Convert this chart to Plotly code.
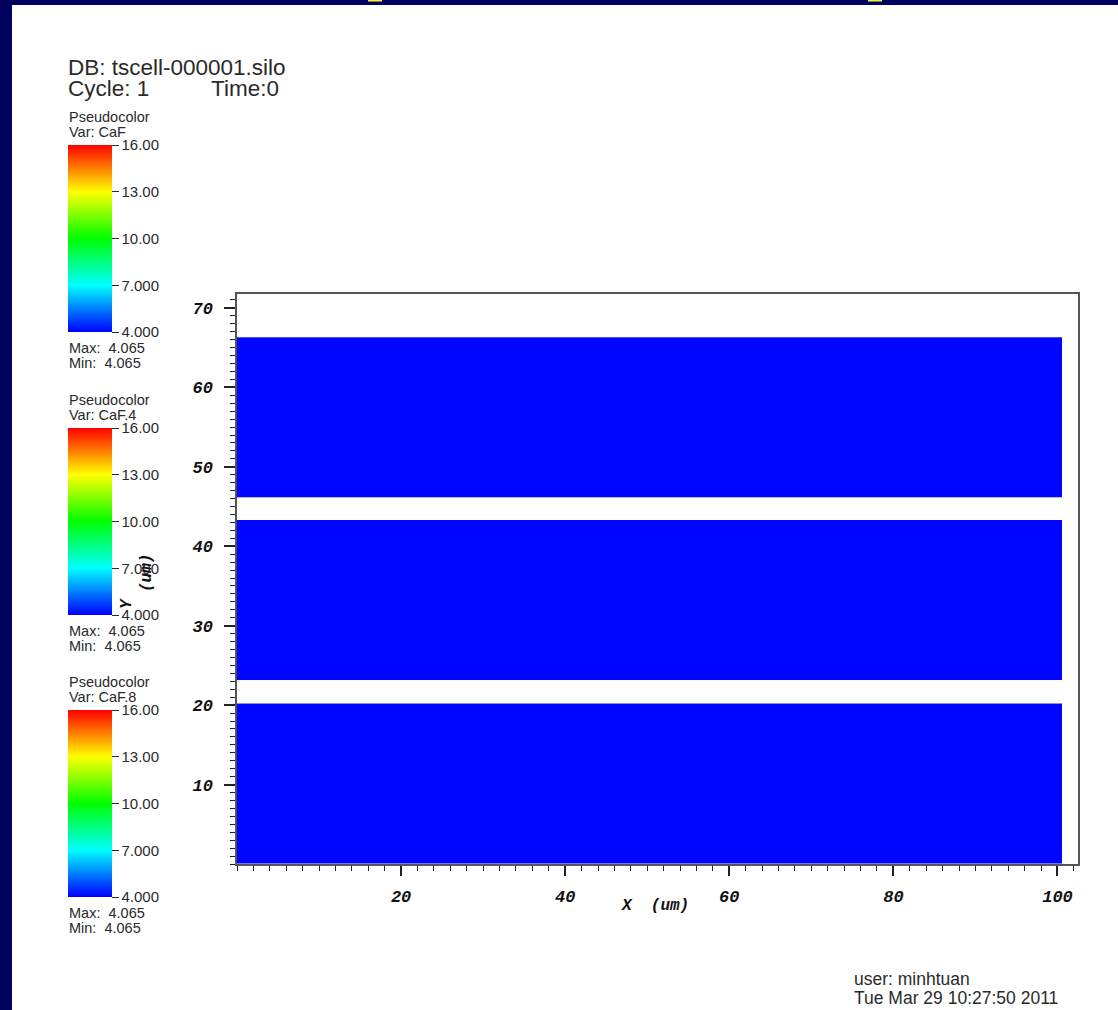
import plotly.graph_objects as go

# ---------------- data ----------------
variables = ["CaF", "CaF.4", "CaF.8"]
band_y_edges = [[46.2, 66.3], [23.1, 43.3], [0.0, 20.2]]
band_values = [4.065, 4.065, 4.065]
band_x_edges = [0.0, 100.5]
var_min = [4.065, 4.065, 4.065]
var_max = [4.065, 4.065, 4.065]
cbar_tickvals = [4, 7, 10, 13, 16]
cbar_ticktext = ["4.000", "7.000", "10.00", "13.00", "16.00"]
x_tickvals = [20, 40, 60, 80, 100]
x_ticktext = ["20", "40", "60", "80", "100"]
y_tickvals = [10, 20, 30, 40, 50, 60, 70]
y_ticktext = ["10", "20", "30", "40", "50", "60", "70"]
zmin, zmax = 4.0, 16.0

# ---------------- layout geometry ----------------
FW, FH = 1118, 1010
L, T, R, B = 237, 294, 1078, 864
W, H = R - L, B - T

def px(x):
    return (x - L) / W

def py(y):
    return 1 - (y - T) / H

NAVY = "#00005f"
TXT = "#2a2a2a"
SANS = "Liberation Sans"
MONO = "Liberation Mono"

colorscale = [[0.0, "rgb(0,0,255)"], [0.25, "rgb(0,255,255)"], [0.5, "rgb(0,255,0)"],
              [0.75, "rgb(255,255,0)"], [1.0, "rgb(255,0,0)"]]

fig = go.Figure()

group_offsets = [0, 283, 565]
bar_top0, bar_len = 145, 187

for i, var in enumerate(variables):
    off = group_offsets[i]
    fig.add_trace(go.Heatmap(
        x=band_x_edges, y=band_y_edges[i], z=[[band_values[i]]],
        zmin=zmin, zmax=zmax, colorscale=colorscale, name=var,
        hoverinfo="skip",
        colorbar=dict(
            xref="paper", yref="paper",
            x=px(68), xanchor="left", xpad=0,
            y=py(bar_top0 + off), yanchor="top", ypad=0,
            len=bar_len, lenmode="pixels",
            thickness=44, thicknessmode="pixels",
            outlinewidth=0,
            tickvals=cbar_tickvals, ticktext=cbar_ticktext,
            ticks="outside", ticklen=7, tickwidth=1, tickcolor=TXT,
            tickfont=dict(family=SANS, size=15, color=TXT),
        ),
    ))

annotations = []

def add_text(text, x, y, size, family=SANS, xanchor="left", color=TXT, angle=0, weight="normal", style="normal"):
    annotations.append(dict(
        text=text, x=px(x), y=py(y), xref="paper", yref="paper",
        xanchor=xanchor, yanchor="middle", showarrow=False, textangle=angle,
        font=dict(family=family, size=size, color=color, weight=weight, style=style),
    ))

add_text("DB: tscell-000001.silo", 66, 75.7 - 0.35 * 22.5, 22.5)
add_text("Cycle: 1", 66, 96 - 0.35 * 22.5, 22.5)
add_text("Time:0", 209, 96 - 0.35 * 22.5, 22.5)

for i, var in enumerate(variables):
    off = group_offsets[i]
    add_text("Pseudocolor", 67, 121.7 + off - 0.35 * 14.5, 14.5)
    add_text("Var: " + var, 67, 136.7 + off - 0.35 * 14.5, 14.5)
    add_text("Max:\u00a0\u00a0%.3f" % var_max[i], 67, 353 + off - 0.35 * 14.5, 14.5)
    add_text("Min:\u00a0\u00a0%.3f" % var_min[i], 67, 368 + off - 0.35 * 14.5, 14.5)

add_text("user: minhtuan", 852, 985 - 0.35 * 17.5, 17.5)
add_text("Tue Mar 29 10:27:50 2011", 852, 1004 - 0.35 * 17.5, 17.5)

title_font = dict(family=MONO, color="#111", weight="bold", style="italic")
add_text("X\u00a0\u00a0(um)", 655, 906, 16, family=MONO, xanchor="center", color="#111",
         weight="bold", style="italic")
add_text("Y", 127, 604, 16, family=MONO, xanchor="center", color="#111", angle=-90,
         weight="bold", style="italic")
add_text("(um)", 147, 573, 16, family=MONO, xanchor="center", color="#111", angle=-90,
         weight="bold", style="italic")

# frame: navy border on top/left and small yellow marks
shapes = [
    dict(type="rect", xref="paper", yref="paper", x0=px(0), x1=px(FW), y0=py(0), y1=py(5),
         fillcolor=NAVY, line_width=0, layer="above"),
    dict(type="rect", xref="paper", yref="paper", x0=px(0), x1=px(12), y0=py(0), y1=py(FH),
         fillcolor=NAVY, line_width=0, layer="above"),
    dict(type="rect", xref="paper", yref="paper", x0=px(368), x1=px(382), y0=py(0), y1=py(1.5),
         fillcolor="#f5f03c", line_width=0, layer="above"),
    dict(type="rect", xref="paper", yref="paper", x0=px(868), x1=px(882), y0=py(0), y1=py(1.5),
         fillcolor="#f5f03c", line_width=0, layer="above"),
]

axis_font = dict(family=MONO, size=17, color="#111", weight="bold", style="italic")

fig.update_layout(
    width=FW, height=FH, autosize=False,
    margin=dict(l=L, r=FW - R, t=T, b=FH - B, pad=0),
    paper_bgcolor="white", plot_bgcolor="white",
    showlegend=False,
    annotations=annotations, shapes=shapes,
    xaxis=dict(
        range=[0, 102.5], showgrid=False, zeroline=False,
        showline=True, linecolor="#555", linewidth=1.5, mirror=True,
        tickmode="array", tickvals=x_tickvals, ticktext=x_ticktext,
        ticks="outside", ticklen=10, tickwidth=1.5, tickcolor="#222",
        ticklabelstandoff=6, tickfont=axis_font,
        minor=dict(tickmode="linear", tick0=0, dtick=2, ticks="outside", ticklen=5,
                   tickwidth=1, tickcolor="#222"),
    ),
    yaxis=dict(
        range=[0, 71.75], showgrid=False, zeroline=False,
        showline=True, linecolor="#555", linewidth=1.5, mirror=True,
        tickmode="array", tickvals=y_tickvals, ticktext=y_ticktext,
        ticks="outside", ticklen=11, tickwidth=1.5, tickcolor="#222",
        ticklabelstandoff=8, tickfont=axis_font,
        minor=dict(tickmode="linear", tick0=0, dtick=1, ticks="outside", ticklen=5,
                   tickwidth=1, tickcolor="#222"),
    ),
)

fig.write_html("out.html", config={"displayModeBar": False},
               post_script="document.body.style.margin='0';")
